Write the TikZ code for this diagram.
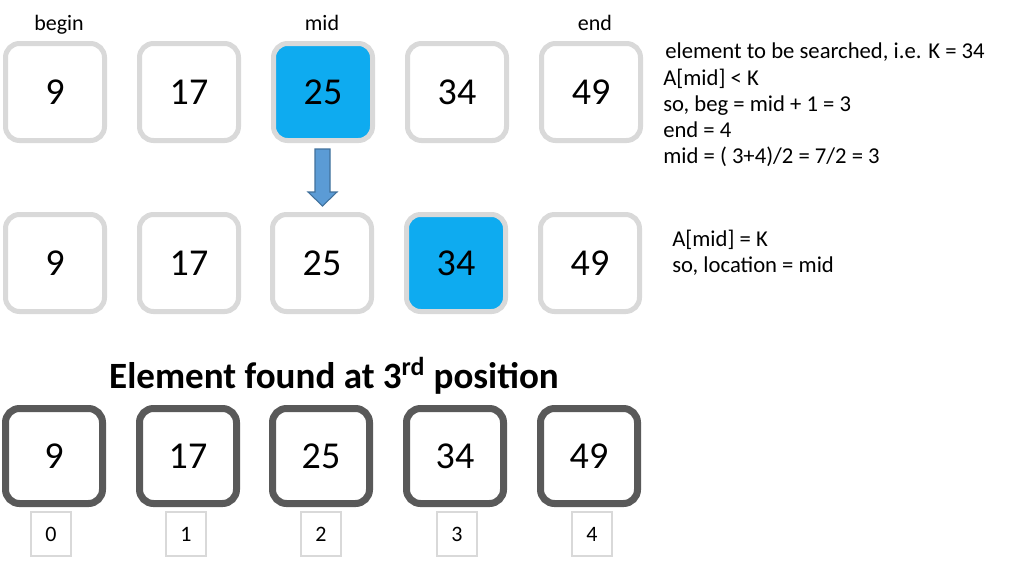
\documentclass[tikz,border=0pt]{standalone}
\usepackage{fontspec}
\setmainfont{Carlito}
\definecolor{rimlight}{RGB}{217,217,217}
\definecolor{rimdark}{RGB}{89,89,89}
\definecolor{hitblue}{RGB}{14,171,240}
\definecolor{arrowblue}{RGB}{91,155,213}
\definecolor{arrowrim}{RGB}{65,113,156}
\begin{document}
\begin{tikzpicture}[x=0.75pt, y=-0.75pt,
	cell/.style={draw=rimlight, line width=3.75pt, rounded corners=10.5pt, fill=white,
		minimum width=74.25pt, minimum height=72.75pt, inner sep=0pt,
		font=\fontsize{28.5}{34}\selectfont},
	hit/.style={cell, fill=hitblue},
	found/.style={cell, draw=rimdark, line width=5.25pt, minimum width=72.75pt, minimum height=71.25pt},
	slot/.style={draw=rimlight, line width=1.1pt, minimum width=30pt, minimum height=33pt,
		inner sep=0pt, font=\fontsize{16.5}{19}\selectfont},
	tag/.style={anchor=base, inner sep=0pt, font=\fontsize{16.5}{19}\selectfont},
	note/.style={anchor=base west, inner sep=0pt, font=\fontsize{17}{20}\selectfont}]
		\fill[white](0, 0) rectangle (1009, 562);
		\useasboundingbox (0, 0) rectangle (1009, 562);

			\node[tag] (begin) at(59, 30){begin};
			\node[tag] (mid) at(322, 30){mid};
			\node[tag] (end) at(595, 30){end};

			\node[cell] (a1) at(55, 92){9};
			\node[cell] (a2) at(189, 92){17};
			\node[hit] (a3) at(323, 92){25};
			\node[cell] (a4) at(457, 92){34};
			\node[cell] (a5) at(591, 92){49};

			\draw[arrowrim, fill=arrowblue, line width=0.8pt](315, 149) -- (330, 149) -- (330, 192) -- (337, 192)
				-- (322.5, 206) -- (308, 192) -- (315, 192) -- cycle;

			\node[cell] (b1) at(55, 263){9};
			\node[cell] (b2) at(189, 263){17};
			\node[cell] (b3) at(322, 263){25};
			\node[hit] (b4) at(456, 263){34};
			\node[cell] (b5) at(590, 263){49};

			\node[note] (n1) at(665, 58){element to be searched, i.e. K = 34};
			\node[note] (n2) at(663, 85){A[mid] < K};
			\node[note] (n3) at(663, 111){so, beg = mid + 1 = 3};
			\node[note] (n4) at(663, 137){end = 4};
			\node[note] (n5) at(663, 163){mid = ( 3+4)/2 = 7/2 = 3};
			\node[note] (n6) at(672, 246){A[mid] = K};
			\node[note] (n7) at(672, 272){so, location = mid};

			\node[anchor=base, inner sep=0pt, font=\fontsize{27.8}{32}\selectfont\bfseries] (title) at(334, 388)
				{Element found at 3\textsuperscript{rd} position};

			\node[found] (c1) at(54, 456){9};
			\node[found] (c2) at(188, 456){17};
			\node[found] (c3) at(321, 456){25};
			\node[found] (c4) at(455, 456){34};
			\node[found] (c5) at(589, 456){49};

			\node[slot] (i0) at(51, 534){0};
			\node[slot] (i1) at(186, 534){1};
			\node[slot] (i2) at(321, 534){2};
			\node[slot] (i3) at(457, 534){3};
			\node[slot] (i4) at(592, 534){4};

		\end{tikzpicture}
\end{document}
